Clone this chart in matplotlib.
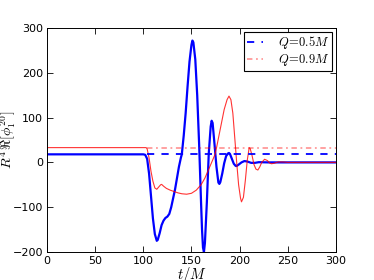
import matplotlib

matplotlib.use("Agg")
import matplotlib.pyplot as plt  # noqa: E402

plt.rcParams["mathtext.fontset"] = "cm"

# Q = 0.5M waveform (thick blue)
t_blue = [0, 50, 100, 102, 104, 106, 108, 110, 112, 114, 115, 117, 119, 121, 123,
          125, 127, 129, 131, 133, 135, 137, 139, 140, 142, 144, 146, 148, 150,
          151, 152, 154, 156, 158, 160, 161, 162, 163, 164, 166, 168, 170, 171,
          172, 174, 176, 178, 179, 180, 182, 184, 186, 188, 189, 190, 192, 194,
          196, 197, 199, 202, 205, 208, 212, 216, 220, 230, 240, 300]
y_blue = [18, 18, 18, 17, 8, -25, -75, -125, -160, -175, -173, -158, -140, -130,
          -124, -121, -115, -100, -80, -60, -35, -10, 10, 18, 60, 110, 170, 225,
          262, 272, 268, 230, 150, 40, -90, -150, -190, -200, -180, -90, 20, 80,
          93, 88, 40, -10, -45, -48, -44, -25, -2, 14, 20, 21, 19, 8, -3, -8, -8,
          -5, 0, 3, 2, -1, -1, 0.5, 0, 0, 0]

# Q = 0.9M waveform (thin red)
t_red = [0, 50, 103, 104, 106, 108, 110, 112, 114, 116, 118, 119, 121, 124, 128,
         132, 136, 140, 145, 150, 155, 160, 164, 168, 172, 174.5, 176, 180, 184,
         187, 189, 191, 193, 195, 197, 199, 201, 202, 204, 206, 208, 210, 211,
         213, 215, 217, 219, 221, 223, 226, 229, 231, 233, 236, 240, 245, 250, 300]
y_red = [33, 33, 33, 30, 10, -20, -42, -57, -60, -55, -50, -49, -53, -58, -62,
         -65, -68, -70, -71, -69, -62, -50, -35, -15, 5, 18, 32, 75, 118, 140,
         148, 140, 110, 55, 0, -50, -80, -88, -78, -40, 5, 33, 31, 15, -5, -15,
         -17, -10, 0, 7, 4, -1, -3, -2, 1, 1, 0, 0]

# late-time constant levels
t_level = [104, 300]
level_blue = [18, 18]
level_red = [33, 33]

fig = plt.figure(figsize=(3.74, 2.8), dpi=100)
ax = fig.add_axes([0.1257, 0.1, 0.7723, 0.8])

ax.plot(t_blue, y_blue, color="blue", lw=1.6)
ax.plot(t_red, y_red, color="red", lw=0.8, alpha=0.8)
ax.plot(t_level, level_blue, color="blue", lw=1.3, ls=(0, (4, 4)), label=r"$Q\!=\!0.5M$")
ax.plot(t_level, level_red, color="red", lw=1.3, ls=(0, (3, 2, 1, 2)), alpha=0.4,
        label=r"$Q\!=\!0.9M$")

ax.set_xlim(0, 300)
ax.set_ylim(-200, 300)
ax.set_xticks([0, 50, 100, 150, 200, 250, 300])
ax.set_yticks([-200, -100, 0, 100, 200, 300])
ax.tick_params(direction="in", top=True, right=True, labelsize=8, length=4,
               width=0.6, pad=3)
for sp in ax.spines.values():
    sp.set_linewidth(0.7)

ax.set_xlabel(r"$t/M$", fontsize=10.5)
ax.xaxis.set_label_coords(0.5, -0.058)
ax.set_ylabel(r"$R^4\,\Re[\phi_1^{20}]$", fontsize=10)
ax.yaxis.set_label_coords(-0.10, 0.5)

leg = ax.legend(loc="upper right", fontsize=9, fancybox=False, framealpha=1,
                edgecolor="black", handlelength=1.3, handletextpad=1.2,
                borderpad=0.2, labelspacing=0.1, borderaxespad=0.3)
leg.get_frame().set_linewidth(0.8)

fig.savefig("out.png", dpi=100)
